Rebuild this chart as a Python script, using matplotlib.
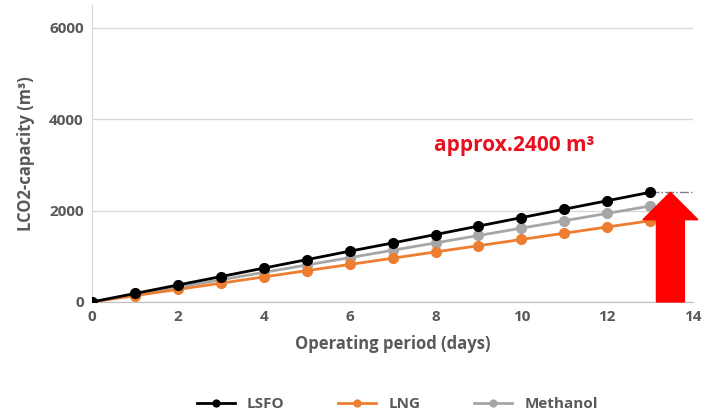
import matplotlib.pyplot as plt
from matplotlib.patches import FancyArrow

days = list(range(14))
lsfo = [0, 185, 370, 555, 740, 925, 1110, 1290, 1475, 1660, 1845, 2030, 2215, 2400]
lng = [0, 137, 274, 410, 547, 684, 820, 957, 1094, 1230, 1367, 1504, 1640, 1777]
methanol = [0, 162, 323, 485, 646, 808, 969, 1131, 1292, 1454, 1615, 1777, 1938, 2100]
x_ticks = [0, 2, 4, 6, 8, 10, 12, 14]
y_ticks = [0, 2000, 4000, 6000]

plt.rcParams['font.family'] = ['Open Sans', 'DejaVu Sans']
grey_txt = '#595959'

fig = plt.figure(figsize=(7.03, 4.17), dpi=100)
ax = fig.add_axes([0.131, 0.276, 0.855, 0.712])

ax.plot(days, methanol, color='#a6a6a6', lw=2, marker='o', ms=7, label='Methanol', zorder=3)
ax.plot(days, lng, color='#ed7d31', lw=2, marker='o', ms=7, label='LNG', zorder=3)
ax.plot(days, lsfo, color='black', lw=2, marker='o', ms=7, label='LSFO', zorder=4)

# dash-dot marker line at the LSFO end value
ax.plot([days[-1], 14], [lsfo[-1], lsfo[-1]], color='#7f7f7f', lw=1, ls='-.', zorder=2)

# big red arrow
arrow = FancyArrow(13.47, 0, 0, lsfo[-1], width=0.65, head_width=1.28,
                   head_length=600, length_includes_head=True,
                   color='#ff0000', clip_on=False, zorder=5)
ax.add_patch(arrow)

ax.text(9.84, 3420, 'approx.2400 m³', color='#e8101e', fontsize=15,
        fontweight='bold', ha='center', va='center')

ax.set_xlim(0, 14)
ax.set_ylim(0, 6500)
ax.set_xticks(x_ticks)
ax.set_yticks(y_ticks)
ax.grid(axis='y', color='#d9d9d9', lw=1)
ax.set_axisbelow(True)
for s in ['top', 'right']:
    ax.spines[s].set_visible(False)
ax.spines['left'].set_color('#d9d9d9')
ax.spines['bottom'].set_color('#bfbfbf')
ax.tick_params(axis='both', length=0, labelsize=11, labelcolor=grey_txt, pad=6)
for lbl in ax.get_xticklabels() + ax.get_yticklabels():
    lbl.set_fontweight('bold')

ax.set_xlabel('Operating period (days)', fontsize=12, fontweight='bold', color=grey_txt, labelpad=8)
ax.set_ylabel('LCO2-capacity (m³)', fontsize=12, fontweight='bold', color=grey_txt, labelpad=10)

handles, labels = ax.get_legend_handles_labels()
order = [2, 1, 0]
leg = fig.legend([handles[i] for i in order], [labels[i] for i in order],
                 loc='center', bbox_to_anchor=(0.565, 0.03), ncol=3, frameon=False,
                 fontsize=11, columnspacing=3.5, handlelength=2.5, markerscale=0.7)
for t in leg.get_texts():
    t.set_color(grey_txt)
    t.set_fontweight('bold')

fig.savefig('out.png', dpi=100)
